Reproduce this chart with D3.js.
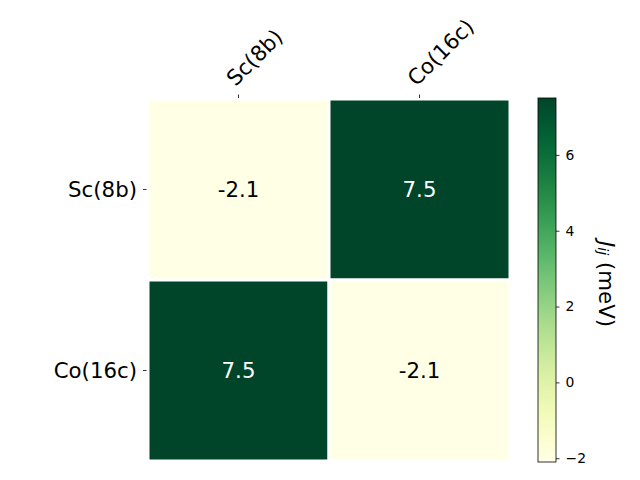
<!DOCTYPE html>
<html><head><meta charset="utf-8">
<script src="https://cdn.jsdelivr.net/npm/d3@7"></script>
<style>body{margin:0;background:#fff}</style>
</head><body>
<script>
const rowLabels = ["Sc(8b)", "Co(16c)"];
const colLabels = ["Sc(8b)", "Co(16c)"];
const values = [[-2.1, 7.5], [7.5, -2.1]];
const cbTicks = [-2, 0, 2, 4, 6];
const vmin = -2.1, vmax = 7.5;

const W = 640, H = 480;
const FS = 21.3;
const svg = d3.select("body").append("svg").attr("width", W).attr("height", H)
  .style("font-family", "DejaVu Sans, sans-serif");

const L = 148, R = 510, T = 99, B = 461;
const x = d3.scaleBand().domain(colLabels.map((d,i)=>i)).range([L, R]);
const y = d3.scaleBand().domain(rowLabels.map((d,i)=>i)).range([T, B]);
const color = d3.scaleSequential(d3.interpolateYlGn).domain([vmin, vmax]);

const cells = [];
values.forEach((row, i) => row.forEach((v, j) => cells.push({i, j, v})));

svg.selectAll("rect.cell").data(cells).join("rect")
  .attr("x", d => x(d.j)).attr("y", d => y(d.i))
  .attr("width", x.bandwidth()).attr("height", y.bandwidth())
  .attr("fill", d => color(d.v))
  .attr("stroke", "#fff").attr("stroke-width", 3);

svg.selectAll("text.val").data(cells).join("text")
  .attr("x", d => x(d.j) + x.bandwidth()/2)
  .attr("y", d => y(d.i) + y.bandwidth()/2)
  .attr("text-anchor", "middle").attr("dominant-baseline", "central")
  .attr("font-size", FS)
  .attr("fill", d => d.v > (vmin+vmax)/2 ? "#fff" : "#000")
  .text(d => d.v.toFixed(1));

// top axis
const topAx = svg.append("g");
colLabels.forEach((lab, j) => {
  const cx = x(j) + x.bandwidth()/2;
  topAx.append("line").attr("x1", cx).attr("x2", cx).attr("y1", T-1).attr("y2", T-4.5)
    .attr("stroke", "#000").attr("stroke-width", 0.8);
  topAx.append("text").attr("transform", `translate(${cx-3},${T-12}) rotate(-45)`)
    .attr("font-size", FS).attr("text-anchor", "start").text(lab);
});
// left axis
rowLabels.forEach((lab, i) => {
  const cyy = y(i) + y.bandwidth()/2;
  svg.append("line").attr("x1", L-1.5).attr("x2", L-5).attr("y1", cyy).attr("y2", cyy)
    .attr("stroke", "#000").attr("stroke-width", 0.8);
  svg.append("text").attr("x", L-11).attr("y", cyy).attr("text-anchor", "end")
    .attr("dominant-baseline", "central").attr("font-size", FS).text(lab);
});

// colorbar
const cbX = 538, cbW = 18, cbT = 98, cbB = 462;
const cbScale = d3.scaleLinear().domain([vmin, vmax]).range([cbB, cbT]);
const defs = svg.append("defs");
const grad = defs.append("linearGradient").attr("id", "g").attr("x1", 0).attr("x2", 0).attr("y1", 1).attr("y2", 0);
d3.range(0, 1.0001, 0.05).forEach(t => grad.append("stop").attr("offset", t).attr("stop-color", d3.interpolateYlGn(t)));
svg.append("rect").attr("x", cbX).attr("y", cbT).attr("width", cbW).attr("height", cbB-cbT)
  .attr("fill", "url(#g)").attr("stroke", "#000").attr("stroke-width", 0.8);
const ax = svg.append("g").attr("transform", `translate(${cbX+cbW},0)`)
  .call(d3.axisRight(cbScale).tickValues(cbTicks).tickSize(3.5).tickPadding(6).tickFormat(d => d < 0 ? "\u2212" + Math.abs(d) : d));
ax.select(".domain").remove();
ax.selectAll("line").attr("stroke-width", 0.8);
ax.selectAll("text").attr("font-size", 13.9).attr("fill", "#000").style("font-family", "DejaVu Sans, sans-serif");

const lab = svg.append("text").attr("transform", `translate(607,284) rotate(90)`)
  .attr("text-anchor", "middle").attr("dominant-baseline", "central").attr("font-size", FS);
lab.append("tspan").attr("font-style", "italic").text("J");
lab.append("tspan").attr("font-style", "italic").attr("font-size", 14.5).attr("dy", 4).text("ij");
lab.append("tspan").attr("dy", -4).text(" (meV)");
</script>
</body></html>
